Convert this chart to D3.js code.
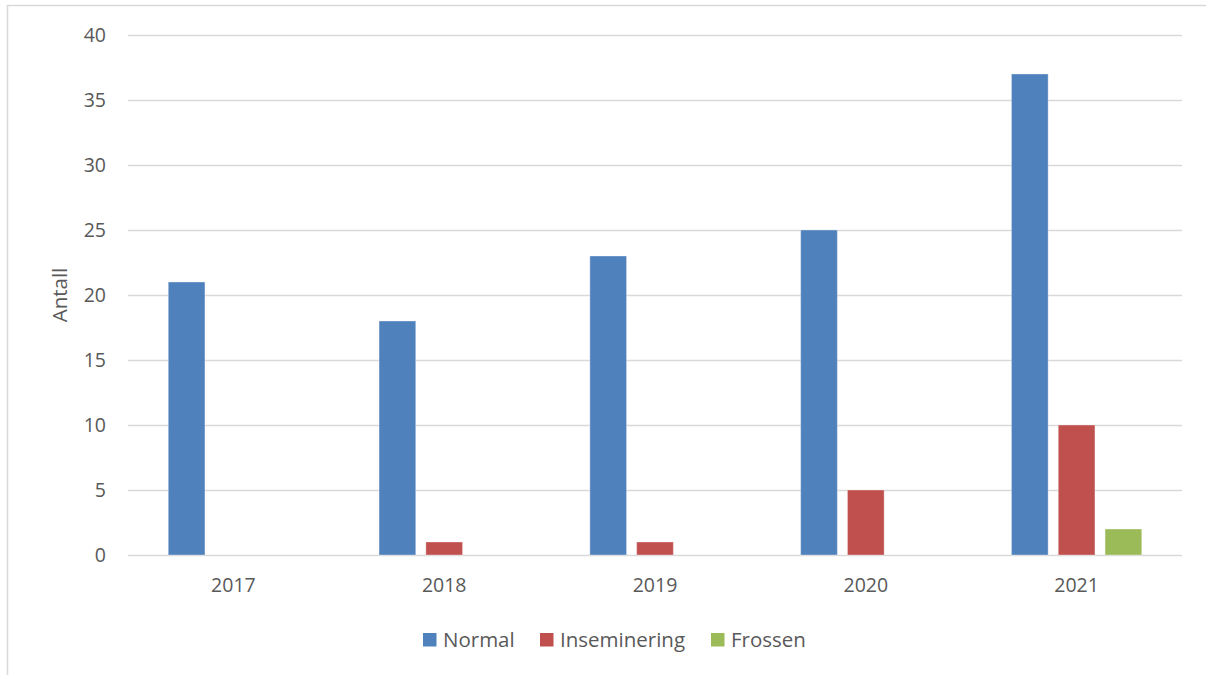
<!DOCTYPE html>
<html><head><meta charset="utf-8">
<script src="https://cdn.jsdelivr.net/npm/d3@7"></script>
<style>body{margin:0;background:#fff}svg{display:block}text{font-family:"Open Sans","Liberation Sans",sans-serif;fill:#595959}</style>
</head><body>
<svg id="c" width="1206" height="675"></svg>
<script>
const categories = ["2017","2018","2019","2020","2021"];
const seriesNames = ["Normal","Inseminering","Frossen"];
const normal = [21,18,23,25,37];
const inseminering = [0,1,1,5,10];
const frossen = [0,0,0,0,2];
const yTicks = [0,5,10,15,20,25,30,35,40];
const colors = ["#4F81BD","#C0504D","#9BBB59"];
const values = [normal, inseminering, frossen];

const svg = d3.select("#c");
svg.append("rect").attr("x",7.5).attr("y",5.5).attr("width",1220).attr("height",700)
  .attr("fill","none").attr("stroke","#d9d9d9").attr("stroke-width",1.5);

const L=128,R=1182,T=35,B=555;
const x = d3.scaleBand().domain(categories).range([L,R]).paddingInner(0).paddingOuter(0);
const y = d3.scaleLinear().domain([0,40]).range([B,T]);
const bw = 36.7, step = 46.8;

const yAxis = d3.axisLeft(y).tickValues(yTicks).tickSize(-(R-L)).tickPadding(0);
const gy = svg.append("g").attr("transform",`translate(${L},0)`).call(yAxis);
gy.select(".domain").remove();
gy.selectAll("line").attr("stroke","#d9d9d9").attr("stroke-width",1.5);
gy.selectAll("text").attr("x",-22).attr("font-size",19.5).attr("fill","#595959").attr("dy","0.35em").style("text-anchor","end");

const xAxis = d3.axisBottom(x).tickSize(0).tickPadding(0);
const gx = svg.append("g").attr("transform",`translate(0,${B})`).call(xAxis);
gx.select(".domain").remove();
gx.selectAll("text").attr("y",37).attr("dy",0).attr("font-size",19.5).attr("fill","#595959");

seriesNames.forEach((s,si)=>{
  svg.append("g").selectAll("rect").data(values[si]).join("rect")
    .attr("x",(d,i)=>x(categories[i])+x.bandwidth()/2 + (si-1)*step - bw/2)
    .attr("y",d=>y(d)).attr("width",bw).attr("height",d=>y(0)-y(d))
    .attr("fill",colors[si]).attr("stroke","rgba(255,255,255,0.35)").attr("stroke-width",1)
    .style("display",d=>d>0?null:"none");
});

svg.append("text").attr("transform","translate(67,295) rotate(-90)")
  .attr("text-anchor","middle").attr("font-size",20.5).text("Antall");

const legX = [423,540,711];
const leg = svg.append("g");
seriesNames.forEach((s,i)=>{
  leg.append("rect").attr("x",legX[i]).attr("y",633).attr("width",13.5).attr("height",13.5).attr("fill",colors[i]);
  leg.append("text").attr("x",legX[i]+20).attr("y",647).attr("font-size",20.5).text(s);
});
</script>
</body></html>
